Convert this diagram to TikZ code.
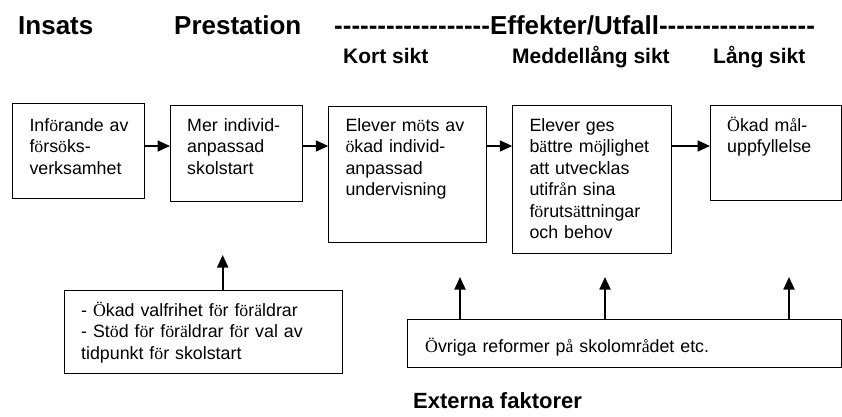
\documentclass[tikz,border=0pt]{standalone}
\usepackage{fontspec}
\setmainfont{Liberation Sans}
\newfontfamily\serfam{Liberation Serif}
\newcommand\ser[1]{{\serfam #1}}
\newcommand\hhh{-{}-{}-{}}
\usetikzlibrary{arrows.meta}
\begin{document}
\begin{tikzpicture}[x=1pt,y=-1pt,
  box/.style={draw, line width=1pt, inner sep=0pt, anchor=north west},
  txt/.style={anchor=base west, inner sep=0pt, align=left, text width=300pt, xshift=17pt,
    font=\fontsize{17.8}{21.5}\selectfont},
  hdA/.style={anchor=base west, inner sep=0pt, font=\fontsize{26}{30}\selectfont\bfseries},
  hdB/.style={anchor=base west, inner sep=0pt, font=\fontsize{21}{25}\selectfont\bfseries},
  arr/.style={-{Triangle[length=12.5pt,width=11pt]}, line width=1.8pt}]
\useasboundingbox (0,0) rectangle (842,416);

% header
\node[hdA] (ins) at (18,34) {Insats};
\node[hdA] (pre) at (174,34) {Prestation};
\node[hdA] (eff) at (334,34) {\hhh\hhh\hhh\hhh\hhh\hhh Effekter/Utfall\hhh\hhh\hhh\hhh\hhh\hhh};
\node[hdB] (kort) at (343,63) {Kort sikt};
\node[hdB] (medel) at (512,63) {Meddellång sikt};
\node[hdB] (lang) at (713,63) {Lång sikt};

% boxes
\node[box, minimum width=131.7, minimum height=95] (b1) at (12.3,103.3) {};
\node[box, minimum width=131.7, minimum height=95.7] (b2) at (170,105.3) {};
\node[box, minimum width=157.7, minimum height=135.7] (b3) at (328.3,106) {};
\node[box, minimum width=158.4, minimum height=148] (b4) at (512.3,105.3) {};
\node[box, minimum width=131.2, minimum height=94.7] (b5) at (710,105.3) {};
\node[box, minimum width=278, minimum height=83] (pb) at (64,290) {};
\node[box, minimum width=434, minimum height=48] (eb) at (407,319) {};

\coordinate (trow) at (0,131);
\coordinate (arow) at (0,146);

\node[txt] (t1) at (b1.west |- trow) {Inf\ser{ö}rande av\\f\ser{ö}rs\ser{ö}ks-\\verksamhet};
\node[txt] (t2) at (b2.west |- trow) {Mer individ-\\anpassad\\skolstart};
\node[txt] (t3) at (b3.west |- trow) {Elever m\ser{ö}ts av\\\ser{ö}kad individ-\\anpassad\\undervisning};
\node[txt] (t4) at (b4.west |- trow) {Elever ges\\b\ser{ä}ttre m\ser{ö}jlighet\\att utvecklas\\utifr\ser{å}n sina\\f\ser{ö}ruts\ser{ä}ttningar\\och behov};
\node[txt] (t5) at (b5.west |- trow) {\ser{Ö}kad m\ser{å}l-\\uppfyllelse};
\node[txt] (tp) at (pb.west |- 0,316) {- \ser{Ö}kad valfrihet f\ser{ö}r f\ser{ö}r\ser{ä}ldrar\\- St\ser{ö}d f\ser{ö}r f\ser{ö}r\ser{ä}ldrar f\ser{ö}r val av\\tidpunkt f\ser{ö}r skolstart};
\node[txt, xshift=1pt] (te) at (eb.west |- 0,352) {\ser{Ö}vriga reformer p\ser{å} skolomr\ser{å}det etc.};

\node[anchor=base west, inner sep=0pt, font=\fontsize{22}{26}\selectfont\bfseries] (ext) at (413,408) {Externa faktorer};

% horizontal arrows
\draw[arr] (b1.east |- arow) -- (b2.west |- arow);
\draw[arr] (b2.east |- arow) -- (b3.west |- arow);
\draw[arr] (b3.east |- arow) -- (b4.west |- arow);
\draw[arr] (b4.east |- arow) -- (b5.west |- arow);

% vertical arrows
\coordinate (tipA) at (222.7,255);
\coordinate (tipB) at (460,277);
\coordinate (tipC) at (605,277);
\coordinate (tipD) at (789,277);
\draw[arr] (pb.north -| tipA) -- (tipA);
\draw[arr] (eb.north -| tipB) -- (tipB);
\draw[arr] (eb.north -| tipC) -- (tipC);
\draw[arr] (eb.north -| tipD) -- (tipD);
\end{tikzpicture}
\end{document}
